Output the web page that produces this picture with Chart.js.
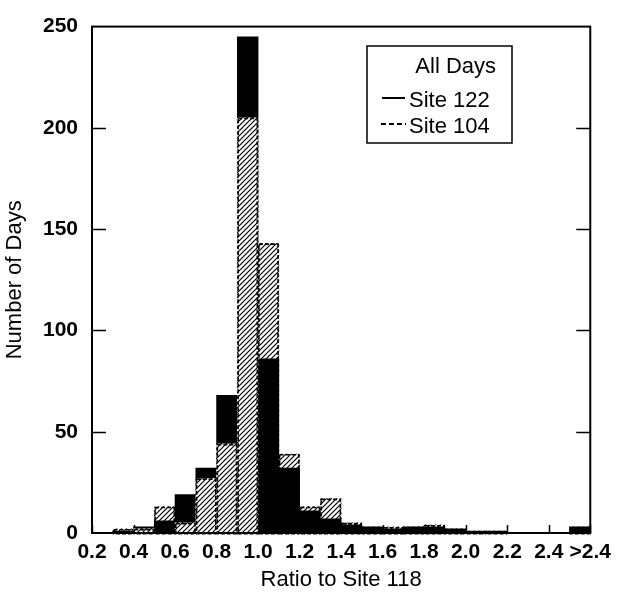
<!DOCTYPE html>
<html lang="en">
<head>
    <meta charset="UTF-8">
    <title>Ratio to Site 118</title>
    <style>
        body { margin: 0; background: #fff; }
        #grafico { display: block; }
    </style>
</head>
<body>
    <canvas id="grafico" width="618" height="597"></canvas>
    <script src="https://cdn.jsdelivr.net/npm/chart.js"></script>
    <script>
        // lower edge of each 0.1 wide bin (last bin = ">2.4")
        const binStarts = [0.2, 0.3, 0.4, 0.5, 0.6, 0.7, 0.8, 0.9, 1.0, 1.1, 1.2, 1.3,
                           1.4, 1.5, 1.6, 1.7, 1.8, 1.9, 2.0, 2.1, 2.2, 2.3, 2.4, 2.5]
        const site122 = [0, 1, 3, 6, 19, 32, 68, 245, 86, 32, 11, 7,
                         4, 3, 2, 3, 3, 2, 1, 1, 0, 0, 0, 3]
        const site104 = [0, 2, 2, 13, 5, 27, 44, 205, 143, 39, 13, 17,
                         5, 3, 3, 3, 4, 2, 1, 1, 0, 0, 0, 3]
        const xTicks = ['0.2', '0.4', '0.6', '0.8', '1.0', '1.2', '1.4', '1.6', '1.8', '2.0', '2.2', '2.4', '>2.4']

        const fonte = 'Liberation Sans, Arial, Helvetica, sans-serif'

        // hatch pattern for Site 104
        const hachura = (() => {
            const s = 5
            const c = document.createElement('canvas')
            c.width = s; c.height = s
            const g = c.getContext('2d')
            g.fillStyle = '#fff'
            g.fillRect(0, 0, s, s)
            g.strokeStyle = '#000'
            g.lineWidth = 1.2
            g.beginPath()
            g.moveTo(0, s); g.lineTo(s, 0)
            g.moveTo(-1, 1); g.lineTo(1, -1)
            g.moveTo(s - 1, s + 1); g.lineTo(s + 1, s - 1)
            g.stroke()
            return g.createPattern(c, 'repeat')
        })()

        // taller bar of each bin goes behind, shorter one in front (ties: black in front)
        const pontos = teste => binStarts.map((b, i) => {
            const v = teste(site122[i], site104[i])
            return { x: +(b + 0.05).toFixed(2), y: v > 0 ? v : null }
        })

        const ticksInternos = {
            id: 'ticksInternos',
            beforeDatasetsDraw(chart) {
                const { ctx, chartArea: a, scales: { x, y } } = chart
                ctx.save()
                ctx.strokeStyle = '#000'
                ctx.lineWidth = 1.5
                ctx.beginPath()
                y.ticks.forEach(t => {
                    if (t.value <= 0 || t.value >= 250) return
                    const py = Math.round(y.getPixelForValue(t.value)) + 0.5
                    ctx.moveTo(a.left, py); ctx.lineTo(a.left + 14, py)
                    ctx.moveTo(a.right, py); ctx.lineTo(a.right - 14, py)
                })
                x.ticks.forEach(t => {
                    const px = Math.round(x.getPixelForValue(t.value)) + 0.5
                    ctx.moveTo(px, a.bottom); ctx.lineTo(px, a.bottom - 8)
                })
                ctx.stroke()
                ctx.restore()
            }
        }

        const contornos = {
            id: 'contornos',
            afterDatasetsDraw(chart) {
                const { ctx, chartArea: a } = chart
                ctx.save()
                ctx.strokeStyle = '#000'
                ctx.lineWidth = 1.6
                ctx.setLineDash([4, 2])
                chart.data.datasets.forEach((ds, di) => {
                    if (!ds.hachurado) return
                    chart.getDatasetMeta(di).data.forEach((el, i) => {
                        if (ds.data[i].y === null) return
                        const p = el.getProps(['x', 'y', 'base', 'width'], true)
                        ctx.strokeRect(p.x - p.width / 2 + 0.8, p.y + 0.8, p.width - 1.6, p.base - p.y)
                    })
                })
                ctx.setLineDash([])
                // moldura
                ctx.lineWidth = 2
                ctx.strokeRect(a.left, a.top, a.right - a.left, a.bottom - a.top)
                ctx.restore()
            },
            afterDraw(chart) {
                const ctx = chart.ctx
                ctx.save()
                ctx.fillStyle = '#fff'
                ctx.fillRect(367, 46, 145, 97)
                ctx.strokeStyle = '#000'
                ctx.lineWidth = 1.5
                ctx.strokeRect(367, 46, 145, 97)
                ctx.fillStyle = '#000'
                ctx.font = '22px ' + fonte
                ctx.textBaseline = 'alphabetic'
                ctx.textAlign = 'right'
                ctx.fillText('All Days', 496, 73)
                ctx.textAlign = 'left'
                ctx.fillText('Site 122', 409, 107)
                ctx.fillText('Site 104', 409, 133)
                ctx.lineWidth = 2
                ctx.beginPath()
                ctx.moveTo(382, 98); ctx.lineTo(405, 98)
                ctx.stroke()
                ctx.setLineDash([5, 3])
                ctx.beginPath()
                ctx.moveTo(381, 124); ctx.lineTo(406, 124)
                ctx.stroke()
                ctx.restore()
            }
        }

        const grafico = new Chart(document.getElementById('grafico'), {
            type: 'bar',
            data: {
                datasets: [
                    { label: 'Site 122', data: pontos((a, b) => a > b ? a : null), backgroundColor: '#000', order: 3 },
                    { label: 'Site 104', data: pontos((a, b) => b >= a ? b : null), backgroundColor: hachura, order: 3, hachurado: true },
                    { label: 'Site 104 (front)', data: pontos((a, b) => b < a ? b : null), backgroundColor: hachura, order: 1, hachurado: true },
                    { label: 'Site 122 (front)', data: pontos((a, b) => a <= b ? a : null), backgroundColor: '#000', order: 1 }
                ]
            },
            options: {
                responsive: false,
                animation: false,
                devicePixelRatio: 1,
                layout: { padding: { left: 0, right: 26, top: 21, bottom: 0 } },
                datasets: { bar: { barPercentage: 1, categoryPercentage: 1, borderWidth: 0 } },
                plugins: { legend: { display: false }, tooltip: { enabled: false } },
                scales: {
                    x: {
                        type: 'linear',
                        min: 0.2,
                        max: 2.6,
                        stacked: true,
                        offset: false,
                        afterFit: s => { s.height = 64 },
                        afterBuildTicks: s => { s.ticks = xTicks.map((t, i) => ({ value: 0.2 + i * 0.2 })) },
                        grid: { display: false, drawTicks: false },
                        border: { display: false },
                        ticks: {
                            autoSkip: false,
                            maxRotation: 0,
                            padding: 7,
                            color: '#000',
                            font: { family: fonte, size: 21, weight: 'bold' },
                            callback: (v, i) => xTicks[i]
                        },
                        title: {
                            display: true,
                            text: 'Ratio to Site 118',
                            color: '#000',
                            font: { family: fonte, size: 22 },
                            padding: { top: 0, bottom: 4 }
                        }
                    },
                    y: {
                        min: 0,
                        max: 250,
                        afterFit: s => { s.width = 92 },
                        grid: { display: false, drawTicks: false },
                        border: { display: false },
                        ticks: {
                            stepSize: 50,
                            padding: 14,
                            color: '#000',
                            font: { family: fonte, size: 21, weight: 'bold' }
                        },
                        title: {
                            display: true,
                            text: 'Number of Days',
                            color: '#000',
                            font: { family: fonte, size: 22 },
                            padding: { top: 2, bottom: 0 }
                        }
                    }
                }
            },
            plugins: [ticksInternos, contornos]
        })
    </script>
</body>
</html>
